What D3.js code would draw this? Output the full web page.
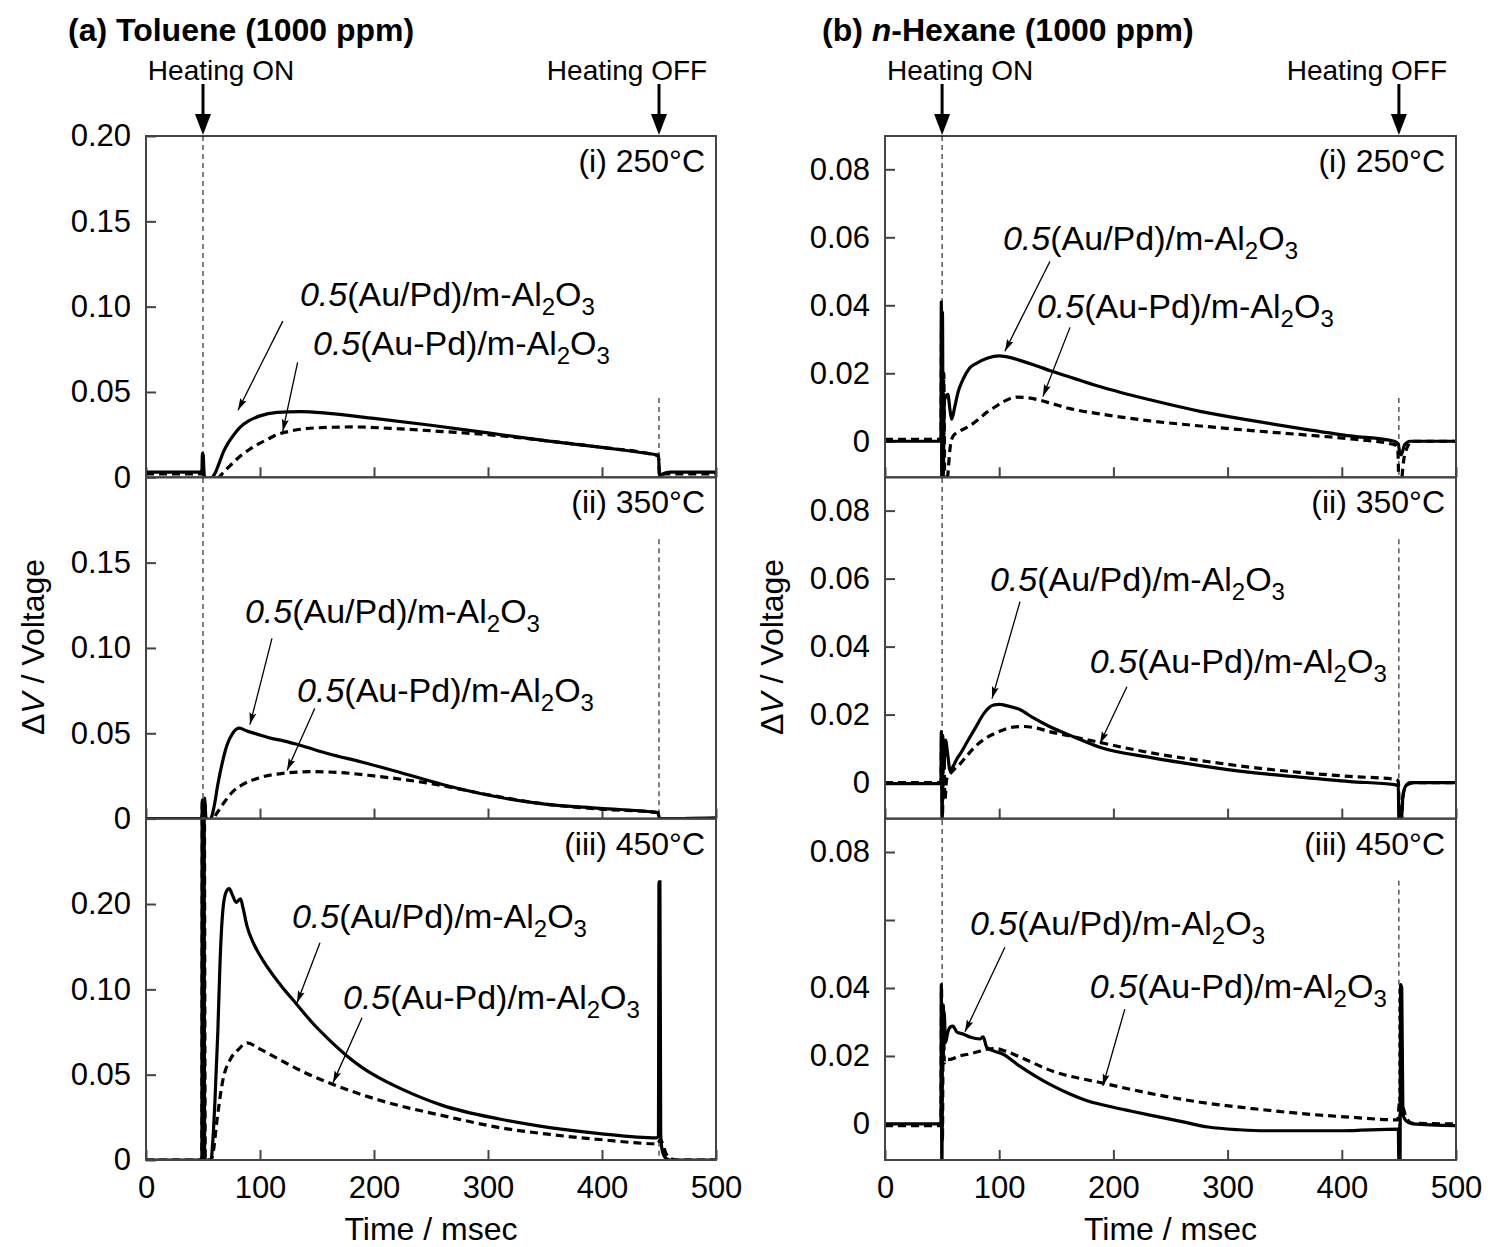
<!DOCTYPE html>
<html><head><meta charset="utf-8">
<script src="https://cdn.jsdelivr.net/npm/d3@7"></script>
<style>body{margin:0;background:#fff} svg text{font-family:"Liberation Sans",Arial,sans-serif;fill:#000}</style>
</head><body>
<svg id="c" width="1490" height="1247"></svg>
<script>
// ---------------- DATA ----------------
const timeTicks = [0, 100, 200, 300, 400, 500];
const heatOn = 50, heatOff = 450;
const tempLabels = ["(i) 250°C", "(ii) 350°C", "(iii) 450°C"];

const tolTickValues = [[0, 0.05, 0.10, 0.15, 0.20], [0, 0.05, 0.10, 0.15], [0, 0.05, 0.10, 0.15]];
const tolTickLabels = [["0", "0.05", "0.10", "0.15", "0.20"], ["0", "0.05", "0.10", "0.15"], ["0", "0.05", "0.10", "0.20"]];
const hexTickValues = [[0, 0.02, 0.04, 0.06, 0.08], [0, 0.02, 0.04, 0.06, 0.08], [0, 0.02, 0.04, 0.06, 0.08]];
const hexTickLabels = [["0", "0.02", "0.04", "0.06", "0.08"], ["0", "0.02", "0.04", "0.06", "0.08"], ["0", "0.02", "0.04", "", "0.08"]];

// Toluene, solid = 0.5(Au/Pd)/m-Al2O3, dashed = 0.5(Au-Pd)/m-Al2O3  [time ms, dV]
const tol250Solid = [[0,0.003],[49,0.003],[49.5,0.014],[50.2,0.013],[51,0.001],[53,-0.001],[58,0],[61,0.003],[64,0.008],[68,0.015],[72,0.02],[76,0.024],[82,0.029],[90,0.033],[100,0.036],[115,0.038],[135,0.0385],[160,0.0375],[200,0.0345],[250,0.0305],[300,0.026],[350,0.0215],[400,0.0175],[445,0.0135],[449.5,0.013],[450.5,0.001],[453,0.002],[460,0.003],[500,0.003]];
const tol250Dash = [[0,0.002],[49,0.002],[50,0.01],[51,-0.002],[58,-0.002],[64,0],[68,0.003],[74,0.007],[82,0.012],[90,0.016],[100,0.02],[106,0.022],[115,0.025],[126,0.027],[150,0.029],[180,0.0295],[220,0.0285],[260,0.0268],[300,0.025],[350,0.0215],[400,0.0175],[449.5,0.0125],[450.5,0.001],[455,0.002],[500,0.002]];
const tol350Solid = [[0,0],[49,0],[49.5,0.011],[50.5,0.002],[51.5,0.011],[52.5,0.001],[54,-0.002],[57,0],[60,0.008],[63,0.02],[67,0.033],[71,0.043],[76,0.05],[82,0.053],[88,0.0515],[100,0.049],[110,0.047],[118,0.046],[135,0.043],[160,0.038],[190,0.033],[223,0.027],[260,0.02],[310,0.0125],[350,0.0085],[398,0.006],[449,0.0035],[450.5,0],[500,0.0005]];
const tol350Dash = [[0,0],[49,0],[49.5,0.012],[50.5,0.002],[51.5,0.012],[52.5,0],[58,-0.001],[62,0.003],[68,0.009],[75,0.015],[85,0.02],[100,0.024],[120,0.0265],[145,0.0275],[170,0.027],[200,0.025],[250,0.0205],[300,0.014],[350,0.0085],[400,0.0055],[449,0.0035],[450.5,0],[500,0]];
const tol450Solid = [[0,0],[49,0],[49.3,0.25],[50,-0.02],[50.7,0.25],[51.5,0],[57,0],[58.5,0.01],[60.5,0.035],[63,0.075],[65,0.117],[68,0.15],[71,0.158],[73,0.159],[76,0.155],[79,0.151],[83,0.153],[85,0.148],[88.6,0.137],[95,0.126],[102.6,0.117],[117.5,0.103],[132.5,0.091],[146.5,0.08],[161.4,0.07],[176.3,0.061],[190,0.054],[205,0.048],[223,0.042],[260,0.032],[310,0.024],[354,0.019],[398,0.0155],[448,0.013],[449.5,0.014],[450,0.163],[450.8,0.163],[451.5,0.015],[453,0.005],[456,0.001],[460,0],[500,0]];
const tol450Dash = [[0,0],[49,0],[49.5,0.25],[50.2,-0.02],[51,0.25],[52,0],[57,0],[58.8,0.004],[62.3,0.0235],[67.5,0.047],[73.7,0.0587],[80.7,0.0645],[88.6,0.0686],[100,0.065],[117.5,0.0587],[140,0.051],[161.4,0.045],[205,0.035],[267,0.025],[310,0.019],[354,0.015],[398,0.012],[449,0.0095],[451,0.012],[453,0.01],[456,0.004],[460,0.001],[466,0],[500,0]];

// n-Hexane
const hex250Solid = [[0,0],[49,0],[49.3,0.041],[49.8,-0.02],[50.3,0.038],[51,-0.01],[52,0.012],[55,0.0138],[57,0.009],[58.4,0.0065],[61,0.01],[64,0.0145],[68,0.018],[74,0.0215],[80.5,0.023],[90,0.0245],[100,0.0251],[110,0.0246],[118,0.0238],[130,0.0225],[147,0.0205],[170,0.018],[191,0.0158],[205,0.0145],[232,0.0122],[276,0.0088],[319,0.0062],[363,0.0038],[407,0.0016],[446,0],[449.5,-0.0008],[450.5,-0.003],[452,-0.004],[455,-0.001],[460,0],[500,0]];
const hex250Dash = [[0,0.0006],[49,0.0006],[49.5,0.035],[50.3,-0.02],[51.5,0.02],[52.5,-0.02],[55,-0.01],[57,-0.002],[59.6,0.0015],[65.6,0.003],[74,0.0045],[82,0.0065],[89,0.0085],[96,0.01],[103,0.0115],[115.5,0.013],[125,0.0128],[133,0.0123],[147,0.011],[162,0.0096],[185,0.0082],[205,0.0072],[232,0.006],[276,0.0045],[319,0.0032],[363,0.002],[407,0.0007],[446,-0.001],[449,-0.002],[450,-0.012],[452,-0.012],[454,-0.006],[457,-0.002],[462,0],[500,0]];
const hex350Solid = [[0,-0.0003],[49,-0.0003],[49.3,0.015],[50,-0.012],[50.6,0.014],[51.5,0.004],[53,0.0125],[55,0.008],[57,0.0035],[60,0.005],[63,0.007],[66,0.0085],[72,0.012],[79,0.016],[87,0.0205],[95,0.0228],[100,0.023],[108,0.0225],[118,0.0215],[130,0.019],[144,0.0165],[165,0.0135],[188,0.0104],[232,0.0074],[276,0.005],[320,0.003],[363,0.0016],[407,0.0003],[446,-0.0006],[449.5,-0.001],[450,-0.012],[452,-0.012],[453.5,-0.004],[456,-0.001],[460,0],[500,0]];
const hex350Dash = [[0,0],[49,0],[49.5,0.013],[50.3,-0.01],[51.3,0.012],[52.5,-0.005],[54,0.001],[57,0.0026],[61,0.004],[66,0.0056],[72,0.008],[79,0.0106],[88,0.013],[100,0.015],[112,0.0163],[122,0.0165],[133,0.016],[144,0.015],[165,0.0135],[188,0.0118],[232,0.0088],[276,0.0065],[320,0.0045],[363,0.003],[407,0.0018],[446,0.001],[449.5,0.0005],[450.5,-0.011],[452,-0.011],[454,-0.003],[458,-0.0005],[465,0],[500,0]];
const hex450Solid = [[0,0],[49,0],[49.3,0.041],[49.8,-0.02],[50.3,0.03],[51,0.02],[51.8,0.033],[53,0.024],[55,0.027],[57,0.0285],[59.5,0.0288],[63,0.027],[68,0.0265],[75,0.0255],[83,0.025],[86,0.0256],[89,0.0226],[95,0.0215],[103,0.0206],[118,0.017],[132,0.014],[147,0.0112],[162,0.0088],[177,0.0068],[196,0.0052],[215,0.0038],[232,0.0026],[260,0.0007],[283,-0.0009],[310,-0.0017],[334,-0.002],[400,-0.002],[449.5,-0.0015],[450,-0.012],[451,-0.012],[451.5,0.041],[452.5,0.04],[453.5,0.003],[456,0.001],[462,0],[500,-0.0005]];
const hex450Dash = [[0,-0.0005],[49,-0.0005],[49.5,0.04],[50.3,-0.005],[51,0.035],[52,0.018],[54,0.019],[57,0.019],[65,0.02],[74,0.0206],[82,0.0213],[89,0.022],[97,0.0222],[105,0.0215],[118,0.0197],[147,0.0155],[191,0.012],[232,0.009],[276,0.0064],[320,0.0046],[363,0.0031],[407,0.002],[449,0.0012],[450,0.005],[451.5,0.008],[454,0.0045],[457,0.0015],[462,0.0002],[500,0]];

// annotation anchors in data coords: text [t,v], arrow from [t,v] to [t,v]
const tolAnnot = [
  [{txt:[135,0.1003], from:[120,0.0915], to:[80.7,0.0393]}, {txt:[146.5,0.0716], from:[133,0.0674], to:[120,0.027]}],
  [{txt:[86.8,0.1144], from:[110.5,0.1056], to:[91.2,0.0551]}, {txt:[132.5,0.0686], from:[148,0.0645], to:[123.7,0.0282]}],
  [{txt:[128,0.136], from:[152.6,0.1273], to:[132.5,0.0921]}, {txt:[172.8,0.0886], from:[189.5,0.0833], to:[164,0.0452]}]
];
const hexAnnot = [
  [{txt:[103.3,0.0562], from:[144.4,0.0529], to:[105,0.0265]}, {txt:[133,0.0362], from:[162,0.0335], to:[138.3,0.0132]}],
  [{txt:[91.9,0.0565], from:[118.2,0.0532], to:[93.7,0.0247]}, {txt:[179.4,0.0321], from:[211.8,0.0282], to:[188.2,0.0115]}],
  [{txt:[74.4,0.0556], from:[105,0.052], to:[70,0.0271]}, {txt:[179.4,0.037], from:[210,0.0338], to:[190.8,0.0112]}]
];

// ---------------- LAYOUT ----------------
const svg = d3.select('#c');
const panelTops = [136, 477.3, 818.7];
const panelH = 341.3;
const FONT = '"Liberation Sans", Arial, sans-serif';

const defs = svg.append('defs');
defs.append('marker').attr('id','ah').attr('viewBox','0 0 12 8').attr('refX',12).attr('refY',4)
  .attr('markerWidth',14).attr('markerHeight',8).attr('markerUnits','userSpaceOnUse').attr('orient','auto')
  .append('path').attr('d','M0,0.5 L12,4 L0,7.5 L2,4 z').attr('fill','#000');

const columns = [
  {x0:146, x1:716, domain:[0,0.2], series:[[tol250Solid,tol250Dash],[tol350Solid,tol350Dash],[tol450Solid,tol450Dash]],
   ticks:tolTickValues, labels:tolTickLabels, annot:tolAnnot, id:'tol'},
  {x0:885, x1:1456, domain:[-0.0106,0.0898], series:[[hex250Solid,hex250Dash],[hex350Solid,hex350Dash],[hex450Solid,hex450Dash]],
   ticks:hexTickValues, labels:hexTickLabels, annot:hexAnnot, id:'hex'}
];

columns.forEach(col => {
  const x = d3.scaleLinear().domain([0,500]).range([col.x0, col.x1]);
  panelTops.forEach((top, pi) => {
    const y = d3.scaleLinear().domain(col.domain).range([top+panelH, top]);
    const g = svg.append('g');
    const cid = `clip-${col.id}-${pi}`;
    defs.append('clipPath').attr('id',cid).append('rect')
      .attr('x',col.x0).attr('y',top).attr('width',col.x1-col.x0).attr('height',panelH);

    // heating OFF dashed marker (partial, below the temperature label)
    g.append('line').attr('x1',x(heatOff)).attr('x2',x(heatOff))
      .attr('y1', pi===0 ? top+262 : top+62).attr('y2',top+panelH)
      .attr('stroke','#000').attr('stroke-width',1).attr('stroke-dasharray','5,4');

    // y axis (inward ticks)
    const ya = d3.axisLeft(y).tickValues(col.ticks[pi]).tickSize(-10).tickPadding(15)
      .tickFormat((d,i) => col.labels[pi][i]);
    const yg = g.append('g').attr('transform',`translate(${col.x0},0)`).call(ya);
    yg.select('.domain').remove();
    yg.selectAll('line').attr('stroke','#444').attr('stroke-width',2);
    yg.selectAll('text').attr('font-size',31).attr('font-family',FONT).attr('fill','#000');

    // x axis (inward ticks)
    const xa = d3.axisBottom(x).tickValues(timeTicks).tickSize(-10).tickPadding(16)
      .tickFormat(pi===2 ? d3.format('d') : () => '');
    const xg = g.append('g').attr('transform',`translate(0,${top+panelH})`).call(xa);
    xg.select('.domain').remove();
    xg.selectAll('line').attr('stroke','#444').attr('stroke-width',2);
    xg.selectAll('text').attr('font-size',31).attr('font-family',FONT).attr('fill','#000');

    // curves
    const line = d3.line().x(d => x(d[0])).y(d => y(d[1])).curve(d3.curveMonotoneX);
    const cg = g.append('g').attr('clip-path',`url(#${cid})`);
    const [solid, dash] = col.series[pi];
    cg.append('path').datum(dash).attr('d',line).attr('fill','none').attr('stroke','#000')
      .attr('stroke-width',3.2).attr('stroke-dasharray','8,5');
    cg.append('path').datum(solid).attr('d',line).attr('fill','none').attr('stroke','#000')
      .attr('stroke-width',3.2);

    // frame
    g.append('rect').attr('x',col.x0).attr('y',top).attr('width',col.x1-col.x0).attr('height',panelH)
      .attr('fill','none').attr('stroke','#444').attr('stroke-width',2);

    // temperature label
    g.append('text').attr('x', col.x1-11).attr('y', top+36).attr('text-anchor','end')
      .attr('font-size',32).text(tempLabels[pi]);

    // annotations
    col.annot[pi].forEach((a, ai) => {
      const t = g.append('text').attr('x',x(a.txt[0])).attr('y',y(a.txt[1])).attr('font-size',34);
      t.append('tspan').attr('font-style','italic').text('0.5');
      t.append('tspan').text(ai===0 ? '(Au/Pd)/m-Al' : '(Au-Pd)/m-Al');
      t.append('tspan').attr('dy',9).attr('font-size',24).text('2');
      t.append('tspan').attr('dy',-9).text('O');
      t.append('tspan').attr('dy',9).attr('font-size',24).text('3');
      g.append('line').attr('x1',x(a.from[0])).attr('y1',y(a.from[1]))
        .attr('x2',x(a.to[0])).attr('y2',y(a.to[1]))
        .attr('stroke','#000').attr('stroke-width',1.3).attr('marker-end','url(#ah)');
    });
  });

  // heating ON dashed line through all panels
  svg.append('line').attr('x1',x(heatOn)).attr('x2',x(heatOn)).attr('y1',136).attr('y2',1160)
    .attr('stroke','#000').attr('stroke-width',1).attr('stroke-dasharray','5,4');

  // heating arrows & labels
  [[heatOn,'Heating ON',18],[heatOff,'Heating OFF',-32]].forEach(([t,lab,off]) => {
    svg.append('line').attr('x1',x(t)).attr('x2',x(t)).attr('y1',84).attr('y2',116)
      .attr('stroke','#000').attr('stroke-width',3);
    svg.append('path').attr('d',`M${x(t)-8},114 L${x(t)+8},114 L${x(t)},135 Z`).attr('fill','#000');
    svg.append('text').attr('x',x(t)+off).attr('y',80).attr('text-anchor','middle')
      .attr('font-size',28).text(lab);
  });

  // x title
  svg.append('text').attr('x',(col.x0+col.x1)/2).attr('y',1240).attr('text-anchor','middle')
    .attr('font-size',32).text('Time / msec');
});

// y titles
[[44,647],[783,647]].forEach(([cx,cy]) => {
  const t = svg.append('text').attr('transform',`translate(${cx},${cy}) rotate(-90)`)
    .attr('text-anchor','middle').attr('font-size',32);
  t.append('tspan').text('Δ');
  t.append('tspan').attr('font-style','italic').text('V');
  t.append('tspan').text(' / Voltage');
});

// panel titles
const ta = svg.append('text').attr('x',68).attr('y',41).attr('font-size',32).attr('font-weight','bold');
ta.append('tspan').text('(a) Toluene (1000 ppm)');
const tb = svg.append('text').attr('x',822).attr('y',41).attr('font-size',32).attr('font-weight','bold');
tb.append('tspan').text('(b) ');
tb.append('tspan').attr('font-style','italic').text('n');
tb.append('tspan').text('-Hexane (1000 ppm)');
</script>
</body></html>
